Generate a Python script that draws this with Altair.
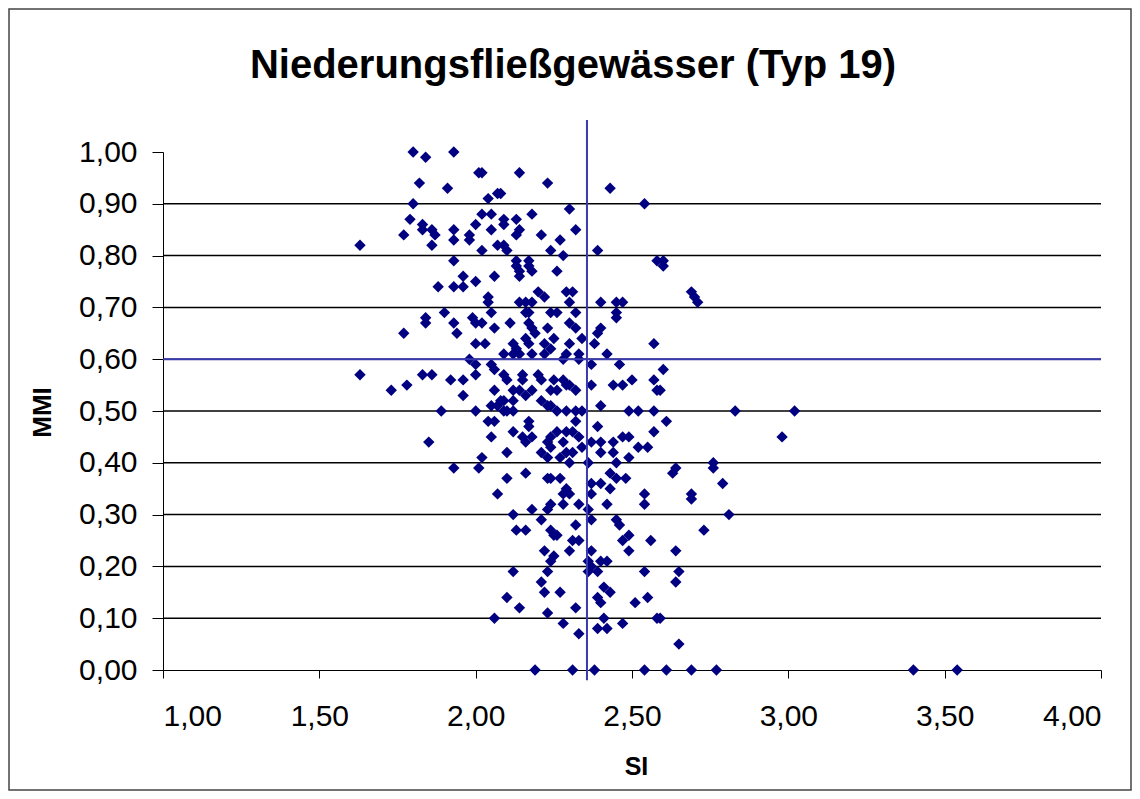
import altair as alt
import pandas as pd

# ---- data (SI, MMI), grouped by region ----
band_top = [(1.80,1.00),(1.84,0.99),(1.93,1.00),(2.01,0.96),(2.02,0.96),(2.14,0.96),(1.82,0.94),
            (1.91,0.93),(2.23,0.94),(2.43,0.93),(1.80,0.90),(2.04,0.91),(2.07,0.92),(2.30,0.89),
            (2.54,0.90),(2.08,0.92)]
band_left_high = [(1.79,0.87),(1.83,0.86),(1.83,0.85),(1.86,0.85),(1.87,0.84),(1.86,0.82),(1.77,0.84),
                  (1.63,0.82),(1.93,0.85),(1.93,0.83),(1.98,0.84),(1.98,0.83),(2.00,0.86),(2.02,0.88),
                  (2.05,0.88),(2.05,0.85),(2.02,0.81),(2.07,0.82),(1.93,0.79),(1.96,0.76),(1.93,0.74),
                  (1.96,0.74),(2.00,0.75),(2.06,0.76),(1.88,0.74),(2.04,0.72),(2.04,0.71),(2.05,0.69),
                  (1.90,0.69),(1.84,0.68),(1.99,0.68)]
band_mid_high = [(2.09,0.87),(2.09,0.86),(2.13,0.87),(2.18,0.88),(2.14,0.85),(2.13,0.84),(2.21,0.84),
                 (2.32,0.85),(2.27,0.83),(2.09,0.82),(2.10,0.81),(2.24,0.81),(2.28,0.80),(2.39,0.81),
                 (2.13,0.79),(2.13,0.78),(2.14,0.77),(2.14,0.76),(2.17,0.79),(2.17,0.78),(2.18,0.77),
                 (2.26,0.77),(2.20,0.73),(2.22,0.72),(2.29,0.73),(2.31,0.73),(2.30,0.71),(2.32,0.69),
                 (2.14,0.71),(2.16,0.71),(2.18,0.71),(2.16,0.69),(2.17,0.69),(2.24,0.69),(2.26,0.69),
                 (2.40,0.71),(2.45,0.71),(2.47,0.71),(2.45,0.69),(2.58,0.79),(2.60,0.79),(2.60,0.78),
                 (2.69,0.73),(2.71,0.71),(2.70,0.72)]
band_left_mid = [(1.84,0.67),(1.77,0.65),(1.93,0.67),(1.94,0.65),(2.00,0.67),(2.02,0.67),(2.06,0.66),
                 (2.00,0.63),(2.03,0.63),(1.98,0.60),(2.00,0.59),(2.05,0.59),(2.06,0.58),(1.63,0.57),
                 (1.83,0.57),(1.86,0.57),(1.73,0.54),(1.78,0.55),(1.92,0.56),(1.96,0.56),(2.00,0.57),
                 (1.96,0.53),(2.06,0.54),(2.05,0.51),(2.07,0.51),(1.89,0.50),(2.00,0.50),(2.04,0.48),
                 (2.06,0.48),(2.05,0.45),(1.85,0.44),(2.02,0.41),(1.93,0.39),(2.01,0.39),(2.07,0.34)]
band_core = [(2.11,0.67),(2.17,0.67),(2.18,0.66),(2.19,0.65),(2.23,0.66),(2.25,0.64),(2.30,0.67),
             (2.32,0.66),(2.34,0.64),(2.40,0.66),(2.39,0.65),(2.38,0.63),(2.45,0.68),(2.57,0.63),
             (2.12,0.63),(2.13,0.62),(2.16,0.64),(2.17,0.63),(2.22,0.63),(2.24,0.62),(2.30,0.63),
             (2.29,0.61),(2.09,0.61),(2.12,0.61),(2.14,0.61),(2.18,0.61),(2.22,0.61),(2.28,0.60),
             (2.33,0.60),(2.33,0.61),(2.37,0.59),(2.42,0.61),(2.46,0.59),
             (2.09,0.57),(2.10,0.56),(2.15,0.57),(2.15,0.56),(2.20,0.57),(2.21,0.56),(2.25,0.56),
             (2.28,0.56),(2.30,0.55),(2.12,0.54),(2.14,0.54),(2.16,0.53),(2.18,0.54),(2.24,0.54),
             (2.26,0.54),(2.29,0.55),(2.32,0.54),(2.37,0.55),(2.44,0.55),(2.47,0.55),(2.50,0.56),
             (2.57,0.56),(2.58,0.54),(2.08,0.52),(2.09,0.52),(2.12,0.52),(2.21,0.52),(2.23,0.51),
             (2.40,0.51),
             (2.10,0.50),(2.12,0.50),(2.09,0.50),(2.24,0.51),(2.26,0.50),(2.29,0.50),(2.32,0.50),
             (2.34,0.50),(2.49,0.50),(2.52,0.50),(2.57,0.50),(2.32,0.48),
             (2.17,0.48),(2.17,0.47),(2.12,0.46),(2.15,0.45),(2.16,0.44),(2.18,0.45),(2.26,0.46),
             (2.29,0.46),(2.31,0.46),(2.24,0.45),(2.28,0.44),(2.23,0.44),(2.24,0.43),(2.33,0.45),
             (2.34,0.43),(2.39,0.47),(2.37,0.44),(2.40,0.44),(2.44,0.44),(2.47,0.45),(2.49,0.45),
             (2.57,0.46),(2.52,0.43),(2.55,0.43),(2.10,0.42),(2.21,0.42),(2.23,0.41),(2.29,0.42),
             (2.31,0.42),(2.27,0.41),(2.30,0.40),(2.36,0.40),(2.40,0.42),(2.44,0.42),(2.45,0.40),
             (2.49,0.41),(2.16,0.38),(2.24,0.37),(2.27,0.37),(2.29,0.35),(2.23,0.37),(2.43,0.38),
             (2.45,0.37),(2.37,0.36),(2.40,0.36),(2.43,0.35),(2.48,0.37),(2.10,0.37),(2.30,0.34),
             (2.28,0.34),(2.37,0.34),(2.54,0.34)]
band_right = [(2.60,0.58),(2.59,0.54),(2.61,0.48),(2.83,0.50),(3.02,0.50),(2.98,0.45),(2.64,0.39),
              (2.63,0.38),(2.76,0.40),(2.76,0.39),(2.79,0.36),(2.69,0.34),(2.69,0.33),(2.81,0.30),
              (2.73,0.27),(2.64,0.23),(2.65,0.19),(2.64,0.17),(2.59,0.10),(2.65,0.05),(2.61,0.00),
              (2.69,0.00),(2.77,0.00),(3.40,0.00),(3.54,0.00)]
band_low = [(2.12,0.30),(2.18,0.31),(2.23,0.31),(2.24,0.32),(2.28,0.32),(2.33,0.32),(2.36,0.31),
            (2.37,0.29),(2.42,0.32),(2.54,0.32),(2.13,0.27),(2.16,0.27),(2.21,0.29),(2.24,0.27),
            (2.25,0.26),(2.26,0.26),(2.32,0.28),(2.31,0.25),(2.33,0.25),(2.45,0.29),(2.46,0.28),
            (2.47,0.25),(2.49,0.26),(2.49,0.23),(2.56,0.25),(2.22,0.23),(2.30,0.23),(2.37,0.23),
            (2.25,0.22),(2.24,0.21),(2.36,0.21),(2.37,0.20),(2.40,0.21),(2.42,0.21),(2.36,0.19),
            (2.39,0.19),(2.12,0.19),(2.23,0.19),(2.54,0.19),(2.21,0.17),(2.22,0.15),(2.27,0.15),
            (2.41,0.16),(2.43,0.15),(2.39,0.14),(2.40,0.13),(2.10,0.14),(2.14,0.12),(2.23,0.11),
            (2.32,0.12),(2.51,0.13),(2.55,0.14),(2.28,0.09),(2.33,0.07),(2.41,0.10),(2.39,0.08),
            (2.42,0.08),(2.47,0.09),(2.58,0.10),(2.19,0.00),(2.31,0.00),(2.38,0.00),(2.54,0.00),
            (2.06,0.10)]

grid_values = [0.1, 0.2, 0.3, 0.4, 0.5, 0.6, 0.7, 0.8, 0.9]
x_ticks = [1.0, 1.5, 2.0, 2.5, 3.0, 3.5, 4.0]
y_ticks = [0.0, 0.1, 0.2, 0.3, 0.4, 0.5, 0.6, 0.7, 0.8, 0.9, 1.0]
si_threshold = 2.356
mmi_threshold = 0.60
vline_span = [-0.02, 1.062]
title_text = "Niederungsfließgewässer (Typ 19)"

points = band_top + band_left_high + band_mid_high + band_left_mid + band_core + band_right + band_low
df = pd.DataFrame(points, columns=["SI", "MMI"])

FONT = "Liberation Sans"
LBL = "replace(format(datum.value, '.2f'), '.', ',')"
BLUE = "#3a3ab0"

xscale = alt.Scale(domain=[1, 4], nice=False, zero=False)
yscale = alt.Scale(domain=[0, 1], nice=False, zero=False)

xaxis = alt.Axis(values=x_ticks, labelExpr=LBL, grid=False, tickSize=8, tickColor="black",
                 domainColor="black", labelFont=FONT, labelFontSize=30, labelColor="black",
                 labelPadding=23, title="SI", titleFont=FONT, titleFontSize=25,
                 titleFontWeight="bold", titleColor="black", titleX=473, titleY=96,
                 titleBaseline="middle", titleAlign="center")
yaxis = alt.Axis(values=y_ticks, labelExpr=LBL, grid=False, tickSize=11, tickColor="black",
                 domainColor="black", labelFont=FONT, labelFontSize=30, labelColor="black",
                 labelPadding=15, title="MMI", titleFont=FONT, titleFontSize=26,
                 titleFontWeight="bold", titleColor="black", titleX=-121, titleY=260,
                 titleAngle=270, titleBaseline="middle", titleAlign="center")

grid = alt.Chart(pd.DataFrame({"g": grid_values})).mark_rule(color="black", strokeWidth=1.5).encode(
    y=alt.Y("g:Q", scale=yscale, axis=yaxis)
)

pts = alt.Chart(df).mark_point(shape="diamond", filled=True, size=130, color="#000080", opacity=1).encode(
    x=alt.X("SI:Q", scale=xscale, axis=xaxis),
    y=alt.Y("MMI:Q", scale=yscale, axis=yaxis),
)

hline = alt.Chart(pd.DataFrame({"m": [mmi_threshold]})).mark_rule(color=BLUE, strokeWidth=2).encode(
    y=alt.Y("m:Q", scale=yscale)
)

vline = alt.Chart(pd.DataFrame({"s": [si_threshold], "y0": [vline_span[0]], "y1": [vline_span[1]]})).mark_rule(
    color=BLUE, strokeWidth=2, clip=False
).encode(
    x=alt.X("s:Q", scale=xscale),
    y=alt.Y("y0:Q", scale=yscale),
    y2="y1:Q",
)

title = alt.Chart(pd.DataFrame({"t": [title_text]})).mark_text(
    font=FONT, fontSize=40, fontWeight="bold", color="black", align="center", baseline="alphabetic"
).encode(x=alt.value(410), y=alt.value(-74), text="t:N")

border = alt.Chart(pd.DataFrame({"a": [0]})).mark_rect(
    fillOpacity=0, stroke="#444444", strokeWidth=1.5, clip=False
).encode(x=alt.value(-154), x2=alt.value(968), y=alt.value(-143), y2=alt.value(638))

chart = alt.layer(border, grid, pts, hline, vline, title).properties(
    width=938, height=518,
    autosize=alt.AutoSizeParams(type="none"),
    padding={"left": 155, "top": 144, "right": 31, "bottom": 121},
    background="white",
).configure_view(stroke=None)

chart.save("out.html", embed_options={"renderer": "svg", "actions": False})
